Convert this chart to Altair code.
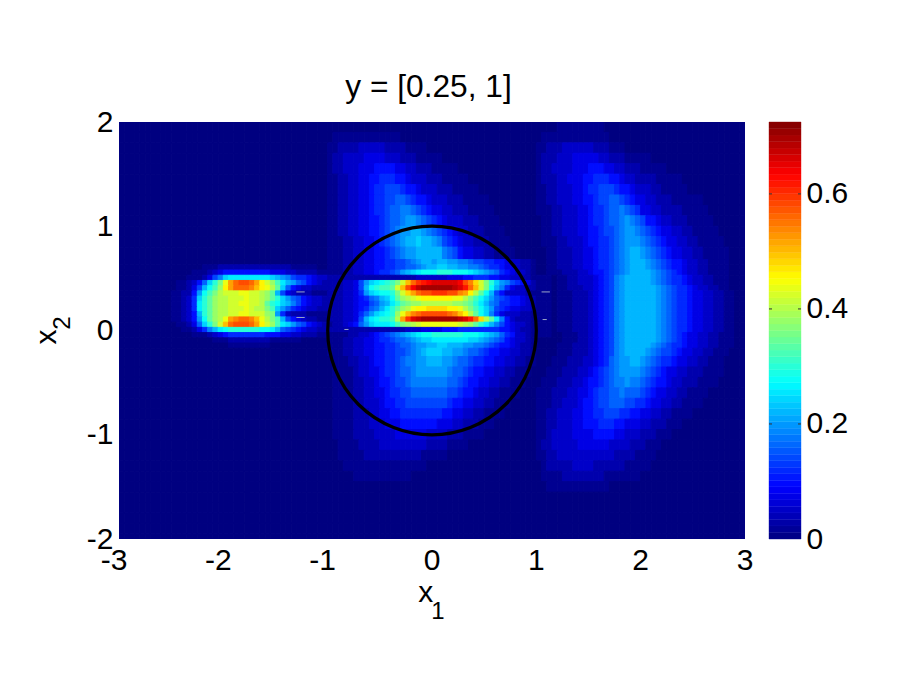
import altair as alt
import pandas as pd

FONT = "Liberation Sans"
# each row: twelve groups of ten cells over x = -3..3, so each cell is 0.05 wide
# "-" is ten empty cells; one digit = value / 0.02 in base 36, faint digits 1-4 lowered by FAINT
FAINT = 0.008
Y_EDGES = [2.0,1.9,1.8,1.7,1.6,1.5,1.4,1.3,1.2,1.1,1.0,0.9,0.8,0.68,0.63,0.58,0.53,0.48,0.43,0.38,0.33,0.28,0.23,0.18,0.13,0.08,0.03,-0.02,-0.07,-0.12,-0.17,-0.25,-0.35,-0.45,-0.55,-0.65,-0.75,-0.85,-0.95,-1.05,-1.15,-1.25,-1.35,-1.45,-1.55,-1.65,-1.75,-1.85,-1.95,-2.0]
ROWS = [
"- - - - - - - - 0000111111 1110000000 - -",
"- - - - 0111111111 1111000000 - - 0111111111 1111000000 - -",
"- - - - 1122223333 3222211110 - - 1122233333 3222111000 - -",
"- - - - 1223333444 4333222111 1100000000 - 1222333444 4433222111 1100000000 -",
"- - - - 1223334445 5554433222 1111100000 - 1223333444 5554433222 1111100000 -",
"- - - - 1122334455 6665543332 2211111000 - 1222334445 5666554332 2221111100 -",
"- - - - 1122334456 6777655433 3222111110 - 1122333445 6677765543 3322111110 -",
"- - - - 1122334456 6778876554 3332221111 1000000000 1122333445 5677887654 4332221111 1100000000",
"- - - - 1122334456 6788998765 4433222111 1100000000 1112233344 5667889876 4433222211 1110000000",
"- - - - 1122334455 67889aa987 6543332221 1110000000 0112233344 5667889a98 7554332221 1111000000",
"- - - - 1122334455 6789aabba9 8765433222 1111000000 0112233344 5567789aa9 8765443322 1111100000",
"- - - - 1112233445 6789abbcbb a976543322 2111100000 0111223334 5566789aaa 9876544332 2111110000",
"- - - - 1112233445 56789aabbb bb98754433 2211110000 0011222334 4566789abb a987654433 2211111000",
"- - - - 1112233445 5667789abb abbaa99877 6655433221 0011222334 4566789abb ba98765543 3221111000",
"- 0000001112 2222222222 2221111100 1112233445 56677889ab bccbbaa998 7665443221 0011222334 4566789abb ba98765543 3221111000",
"- 0000111234 5555555554 4433222211 1112233445 6678abcdee efffeeedcb a986543321 0011122233 4556789abb bba9876543 3221111000",
"- 0001112479 cddddddddc ba97665433 2222222222 2222222333 3334445566 6554433221 1110112233 345679abbb bba9876654 3322111000",
"- 0112358cfi mqsttsqnlj gdba875432 2223347acd efgilpsuvw xxxxxwtrol ifca976542 1110112233 345679abbb bba9876654 3322111000",
"- 011247begj nqsssrpnmk hc85433222 2223347bef gghlptwyzz zzzzyxvspl ieb9643322 1110112223 345679abbb bbba987665 4332211000",
"- 11225aegik lllmmllkjh b743222111 2223346acd eefiloqstt uuuttrqnkh eb75333321 1110111222 345679abbb bbba987665 4433221100",
"- 11236cfhjk klllmllkjh fca8754332 2223345689 bcehjklmnn nnnnmmkige ca87655432 1110111222 345679abbb bbba987665 4433221100",
"- 11236dfhjk kllmmllkhf ecb9754332 2223345578 abdfhijjkk kkkkjjihfd b986655432 1110111222 345679abbb bbba987665 4433221100",
"- 11236dfhjk klllmlkkig ca86543322 2223345689 bdfhjkmnno ooonnmkige ca76544332 1110111222 345679abbb bbba987665 4433221100",
"- 11235bfhjk kllmmlllji a632221111 22233468ac defjmprstt tttsrpnkhe c964333221 1110111222 345679abbb bbba987665 4433221100",
"- 11235aehjk mqrssrpmki gb75432211 2223347bde ffgkquxyzz zzzzzyxvso khd9532221 1110111222 345679abbb bbba987665 4433221100",
"- 011248cfil pstttsqnlj gdca875432 1223458acd ddegijklmm mmmmmlkjhf db97543321 1110111222 345679abbb bbba987665 4433221100",
"- 00112469bd effffffeed b876543322 2222222222 2222233344 4455566666 6665543221 1110111222 345679abbb bbba987665 4433221100",
"- 0000111234 5666666655 5443322211 1111223345 6789abcdee ffffffeeed cba8653321 1110011122 345679abbb bbba987654 4332211100",
"- 0000000011 1222222221 1111100000 1112233445 667889abcc dddddddccb a987543321 0000011122 345679abbb bbba987654 4332211100",
"- - 0111111110 - 1112233445 5667889aab bccbbbaa99 8765543221 0000111222 345679abbb bba9876654 4332211100",
"- - - - 1112233445 5667789abc ccbbaa9887 6554433221 0000111222 345679abbb ba98776544 3322111000",
"- - - - 0111223345 5667899aab bbaa988766 5544332211 0001112223 345689aabb a987665443 3221110000",
"- - - - 0111123344 5667889aaa aaa9887655 4433221110 0011122233 456789aaaa 9876544332 2211110000",
"- - - - 0111122334 5567789999 9998876554 4332211100 0111222334 5567899a99 8765543322 2111100000",
"- - - - 0111122334 4566778888 8887765543 3221111000 1112223344 5677889888 7654433221 1110000000",
"- - - - 0111122333 4556677777 7776554433 2211100000 1112233345 5677888776 6544332211 1100000000",
"- - - - 0111122233 4455666666 6655443322 1111000000 1122333445 5667776655 4433221111 -",
"- - - - 0111122233 3444555555 5444332221 1100000000 1122333445 5566655444 3322211100 -",
"- - - - 0111122223 3334444443 3332221111 - 1123333444 4555544333 2221110000 -",
"- - - - 0011112222 3333333332 2221111000 - 1223333344 4444333322 2111000000 -",
"- - - - 0011111222 2222222211 1110000000 - 1122333333 3333322221 1110000000 -",
"- - - - 0001111111 1111111110 - - 0122222333 3222222111 1100000000 -",
"- - - - 0000011111 1111110000 - - 0111122222 2221111111 - -",
"- - - - - - - - 0011111111 1111000000 - -",
"- - - - - - - - - - - -",
"- - - - - - - - - - - -",
"- - - - - - - - - - - -",
"- - - - - - - - - - - -",
"- - - - - - - - - - - -",
]
SPECK_X1 = [-1.3, -1.3, 1.05, 1.06, -0.84]
SPECK_X2 = [-1.22, -1.22, 1.13, 1.1, -0.8]
SPECK_Y = [0.37, 0.125, 0.37, 0.105, 0.01]
X_TICKS_NEG = [-3, -2, -1]
X_TICKS_POS = [0, 1, 2, 3]
Y_TICKS = [-2, -1, 0, 1, 2]
CB_TICKS = [0, 0.2, 0.4, 0.6]
CB_MAX = 0.725
CB_LEVELS = 64
JET_STOPS = [0, 0.0906, 0.272, 0.453, 0.634, 0.725]
JET_COLORS = ["#000080", "#0000ff", "#00ffff", "#ffff00", "#ff0000", "#800000"]

cells = []
for r, row in enumerate(ROWS):
    text = "".join("0" * 10 if g == "-" else g for g in row.split(" "))
    n = 120
    text = text.ljust(n, "0")[:n]
    w = 6 / n
    for c, ch in enumerate(text):
        d = int(ch, 36)
        cells.append({"x": -3 + c * w, "x2": -3 + (c + 1) * w,
                      "y": Y_EDGES[r + 1], "y2": Y_EDGES[r],
                      "v": d * 0.02 - (FAINT if 1 <= d <= 4 else 0)})
cells = pd.DataFrame(cells)

xs = alt.Scale(domain=[-3, 3], nice=False, zero=False)
ys = alt.Scale(domain=[-2, 2], nice=False, zero=False)
jet = alt.Scale(domain=JET_STOPS, range=JET_COLORS, interpolate="rgb")
W, H, FS = 626, 417, 30

x_axis = alt.Axis(labels=False, title=None, domain=False, ticks=False, grid=False)
y_axis = alt.Axis(values=Y_TICKS, labelExpr="datum.value", title=None, domain=False, ticks=False,
                  grid=False, labelFontSize=FS, labelFont=FONT, labelColor="#000", labelPadding=6)

heat = alt.Chart(cells).mark_rect(strokeWidth=1, clip=True).encode(
    x=alt.X("x:Q", scale=xs, axis=x_axis), x2="x2:Q",
    y=alt.Y("y:Q", scale=ys, axis=y_axis), y2="y2:Q",
    color=alt.Color("v:Q", scale=jet, legend=None),
    stroke=alt.Stroke("v:Q", scale=jet, legend=None),
)
specks = alt.Chart(pd.DataFrame({"x": SPECK_X1, "x2": SPECK_X2, "y": SPECK_Y})).mark_rule(
    color="#9aa6c8", strokeWidth=1).encode(x=alt.X("x:Q", scale=xs), x2="x2:Q", y=alt.Y("y:Q", scale=ys))
circle = alt.Chart(pd.DataFrame({"x": [0], "y": [0]})).mark_point(
    shape="circle", filled=False, size=208.6 ** 2, color="#000", strokeWidth=3.2, opacity=1
).encode(x=alt.X("x:Q", scale=xs), y=alt.Y("y:Q", scale=ys))

def label(txt, px, py, size=FS, angle=0):
    return alt.Chart(pd.DataFrame({"t": [txt]})).mark_text(
        font=FONT, fontSize=size, color="#000", align="center", baseline="middle", angle=angle
    ).encode(text="t:N", x=alt.value(px), y=alt.value(py))

def tick_labels(values, dx):
    return alt.Chart(pd.DataFrame({"x": values, "t": [str(v) for v in values]})).mark_text(
        font=FONT, fontSize=FS, color="#000", align="center", baseline="middle", dx=dx
    ).encode(x=alt.X("x:Q", scale=xs), y=alt.value(439), text="t:N")

main = alt.layer(
    heat, specks, circle,
    tick_labels(X_TICKS_NEG, -5), tick_labels(X_TICKS_POS, 0),
    label("y = [0.25, 1]", 309.5, -35, 31.7),
    label("x", 306.7, 471), label("1", 319, 490, 24),
    label("x", -72, 215, FS, 270), label("2", -56, 201, 24, 270),
).properties(width=W, height=H)

levels = pd.DataFrame({"y": [i * CB_MAX / CB_LEVELS for i in range(CB_LEVELS)],
                       "y2": [(i + 1) * CB_MAX / CB_LEVELS for i in range(CB_LEVELS)]})
levels["v"] = (levels["y"] + levels["y2"]) / 2
cbs = alt.Scale(domain=[0, CB_MAX], nice=False, zero=False)
bar = alt.Chart(levels).mark_rect(strokeWidth=0.4).encode(
    y=alt.Y("y:Q", scale=cbs, axis=alt.Axis(orient="right", values=CB_TICKS, labelExpr="datum.value", title=None,
            domain=False, ticks=False, grid=False, labelFontSize=FS, labelFont=FONT, labelColor="#000", labelPadding=5)),
    y2="y2:Q",
    color=alt.Color("v:Q", scale=jet, legend=None),
    stroke=alt.Stroke("v:Q", scale=jet, legend=None),
)
cb_ticks = pd.DataFrame({"y": CB_TICKS[1:]})
t1 = alt.Chart(cb_ticks).mark_rule(color="#333", strokeWidth=1).encode(y=alt.Y("y:Q", scale=cbs), x=alt.value(0), x2=alt.value(3))
t2 = alt.Chart(cb_ticks).mark_rule(color="#333", strokeWidth=1).encode(y=alt.Y("y:Q", scale=cbs), x=alt.value(29), x2=alt.value(32))
cb = alt.layer(bar, t1, t2).properties(width=32, height=H)

chart = alt.hconcat(main, cb, spacing=14).resolve_scale(color="independent", stroke="independent").properties(
    padding={"left": 24, "top": 64, "right": 0, "bottom": 0}, background="white"
).configure_view(stroke=None)
chart.save("out.html", embed_options={"renderer": "svg", "actions": False})
